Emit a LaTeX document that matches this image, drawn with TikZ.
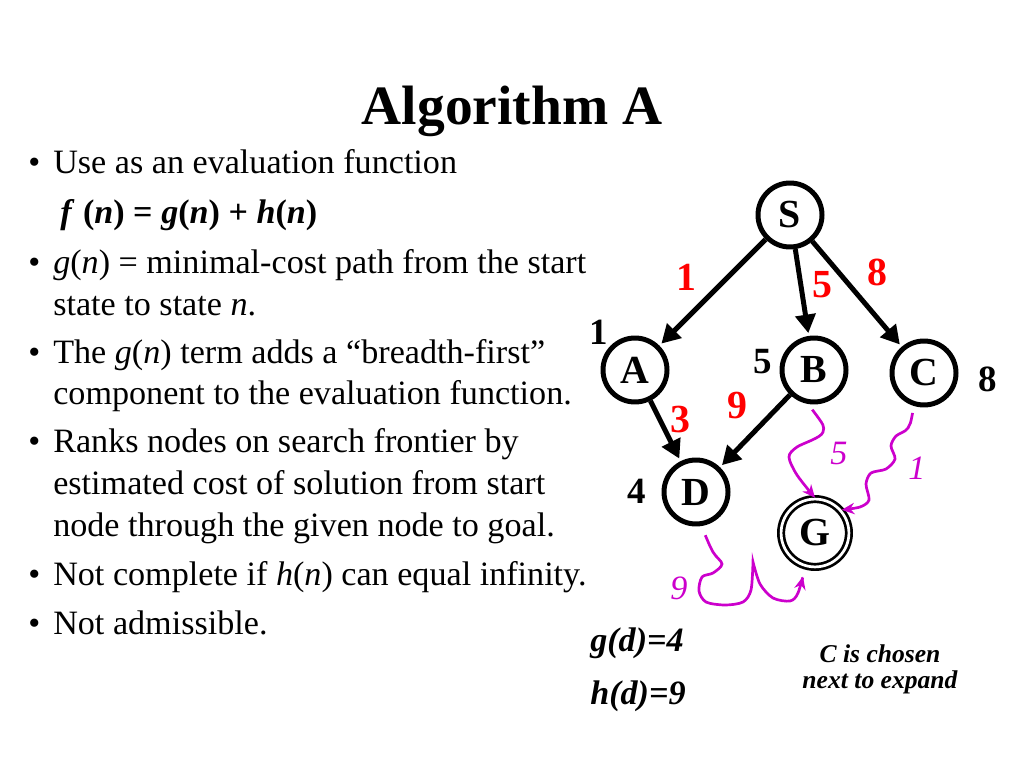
\documentclass[tikz,border=0pt]{standalone}
\usepackage{fontspec}
\setmainfont{Liberation Serif}
\usepackage{tikz}
\usetikzlibrary{arrows.meta}
\definecolor{wavy}{RGB}{204,0,204}

\begin{document}
\begin{tikzpicture}[x=0.703125pt, y=-0.703125pt,
    txt/.style={anchor=base west, inner sep=0pt, font=\fontsize{24}{29}\selectfont},
    vertex/.style={circle, draw, line width=3.5pt, minimum size=45pt, inner sep=0pt, font=\fontsize{28}{34}\selectfont\bfseries},
    goal/.style={circle, draw, double, line width=1.9pt, double distance=1.9pt, minimum size=47.7pt, inner sep=0pt, font=\fontsize{28}{34}\selectfont\bfseries},
    arr/.style={line width=3.5pt, -{Triangle[length=13pt,width=14pt]}, shorten >=2pt},
    squig/.style={wavy, line width=1.9pt, -{Stealth[length=9pt,width=8pt]}},
    cost/.style={red, font=\fontsize{28}{34}\selectfont\bfseries},
    gval/.style={font=\fontsize{26}{31}\selectfont\bfseries},
    hval/.style={wavy, font=\fontsize{24}{29}\selectfont\itshape}]
    \useasboundingbox (0,0) rectangle (1024,768);

    \node[anchor=base, font=\fontsize{39}{47}\selectfont\bfseries] (title) at (512,125) {Algorithm A};

    % bullet list
    \foreach \y [count=\i] in {174,274,363,452,585,634}
        \node[txt] (bul\i) at (28,\y) {\textbullet};
    \foreach \y/\t [count=\i] in {174/{Use as an evaluation function},
        274/{\textit{g}(\textit{n}) = minimal-cost path from the start},
        315/{state to state \textit{n}.},
        363/{The \textit{g}(\textit{n}) term adds a “breadth-first”},
        404/{component to the evaluation function.},
        452/{Ranks nodes on search frontier by},
        494/{estimated cost of solution from start},
        536/{node through the given node to goal.},
        585/{Not complete if \textit{h}(\textit{n}) can equal infinity.},
        634/{Not admissible.}}
        \node[txt] (line\i) at (53,\y) {\t};
    \node[txt, font=\fontsize{24}{29}\selectfont\bfseries] (fline) at (60,224)
        {\textit{f} (\textit{n}) = \textit{g}(\textit{n}) + \textit{h}(\textit{n})};

    % search tree
    \node[vertex] (S) at (790,215) {S};
    \node[vertex] (A) at (635,370) {A};
    \node[vertex] (B) at (814,370) {B};
    \node[vertex] (C) at (924,373) {C};
    \node[vertex] (D) at (696,492) {D};
    \node[goal] (G) at (815,533) {G};
    \foreach \a/\b in {S/A, S/B, S/C, A/D, B/D}
        \draw[arr] (\a) -- (\b);

    \foreach \x/\y/\t [count=\i] in {686/277/1, 822/285/5, 877/272/8, 680/420/3, 737/406/9}
        \node[cost] (cost\i) at (\x,\y) {\t};
    \foreach \x/\y/\t [count=\i] in {599/332/1, 763/362/5, 988/379/8, 637/491/4}
        \node[gval] (gval\i) at (\x,\y) {\t};
    \foreach \x/\y/\t [count=\i] in {839/453/5, 917/468/1, 679/588/9}
        \node[hval] (hval\i) at (\x,\y) {\t};

    % estimated remaining cost
    \draw[squig, shorten <=5pt] plot[smooth] coordinates {(B.-100) (823,432) (797,447) (789,457) (797,475) (G.north)};
    \draw[squig, shorten <=5pt] plot[smooth] coordinates {(C.-107) (908,428) (896,436) (891,446) (895,459) (886,469) (871,473) (866,484) (869,500) (860,507) (G.41)};
    \draw[squig, shorten <=7pt, shorten >=7pt] plot[smooth] coordinates {(D.-81) (713,552) (722,564) (713,573) (702,577) (699,591) (706,602) (725,605) (743,602) (751,590) (753,562)}
        -- plot[smooth] coordinates {(753,562) (760,584) (773,598) (790,601) (798,593) (G.-106)};

    \node[txt, font=\fontsize{24}{29}\selectfont\bfseries\itshape] (gd) at (590,651) {g(d)=4};
    \node[txt, font=\fontsize{24}{29}\selectfont\bfseries\itshape] (hd) at (590,704) {h(d)=9};
    \node[anchor=base, font=\fontsize{18}{22}\selectfont\bfseries\itshape] (note1) at (880,662) {C is chosen};
    \node[anchor=base, font=\fontsize{18}{22}\selectfont\bfseries\itshape] (note2) at (880,688) {next to expand};
\end{tikzpicture}
\end{document}
